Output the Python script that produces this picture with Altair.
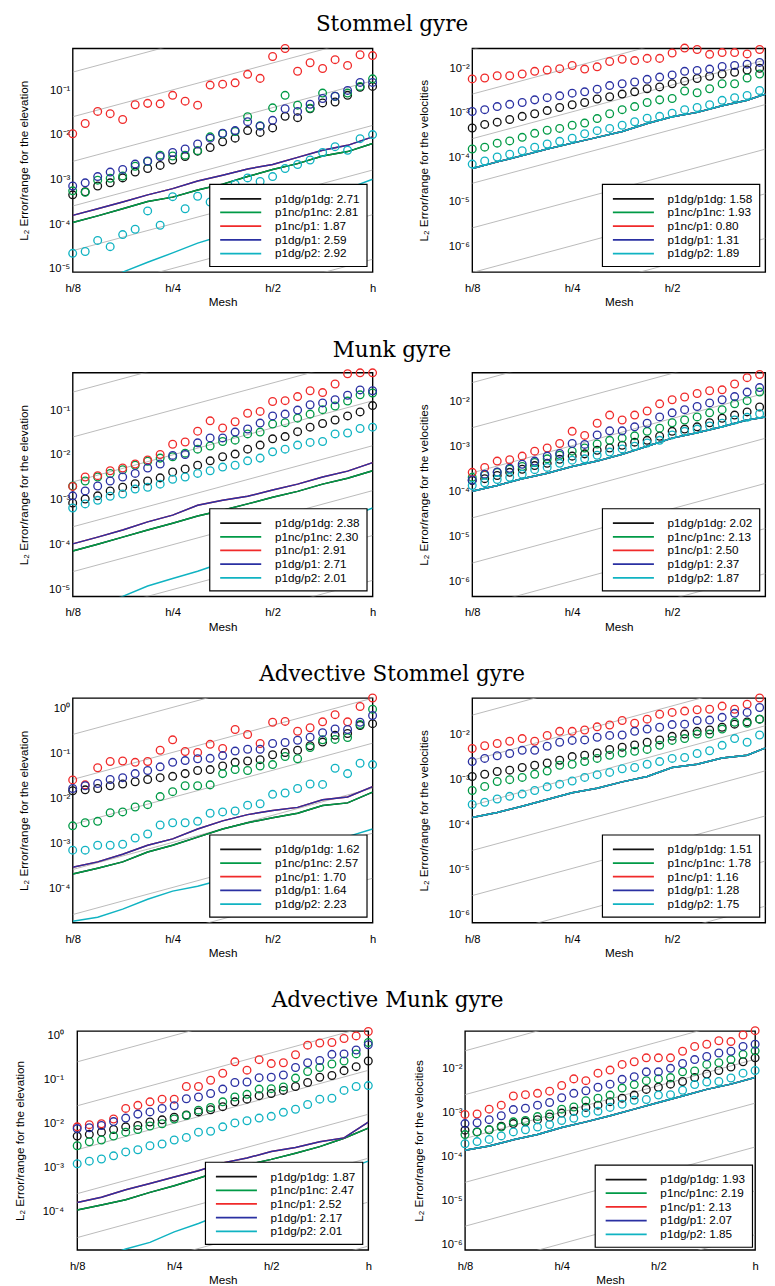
import math
import altair as alt
import pandas as pd

# ---------------- data (log10 of the L2 error / range) ----------------
MESH = [2 ** (-3 + i / 8) for i in range(25)]          # h/8 ... h, 25 meshes
MESH_LINE = MESH[::2]
SERIES = ["p1dg/p1dg", "p1nc/p1nc", "p1nc/p1", "p1dg/p1", "p1dg/p2"]
COLORS = ["#111111", "#009a46", "#f02a2a", "#2a30a2", "#10b3c2"]
SLOPE = 2.0  # gray reference lines

# Stommel gyre, elevation
SE_BLACK = [-3.34, -3.27, -3.14, -3.07, -2.96, -2.83, -2.75, -2.68, -2.56, -2.48, -2.36, -2.28, -2.15, -2.07, -1.90, -1.94, -1.84, -1.58, -1.61, -1.41, -1.28, -1.26, -1.11, -0.93, -0.91]
SE_GREEN = [-3.25, -3.28, -3.01, -2.97, -2.92, -2.70, -2.59, -2.45, -2.47, -2.45, -2.35, -2.04, -1.97, -1.92, -1.59, -1.79, -1.39, -1.11, -1.33, -1.40, -1.06, -1.13, -1.06, -0.91, -0.74]
SE_RED = [-1.97, -1.74, -1.47, -1.52, -1.65, -1.32, -1.29, -1.30, -1.11, -1.24, -1.33, -0.88, -0.86, -0.83, -0.64, -0.73, -0.24, -0.06, -0.57, -0.38, -0.51, -0.31, -0.44, -0.20, -0.22]
SE_BLUE = [-3.14, -3.07, -2.93, -2.83, -2.77, -2.65, -2.58, -2.48, -2.39, -2.31, -2.20, -2.07, -1.96, -1.90, -1.70, -1.80, -1.67, -1.41, -1.47, -1.31, -1.18, -1.13, -1.00, -0.82, -0.82]
SE_CYAN = [-4.65, -4.61, -4.36, -4.50, -4.23, -4.11, -3.70, -4.02, -3.38, -3.65, -3.37, -3.50, -3.21, -3.10, -2.96, -3.04, -2.93, -2.75, -2.66, -2.56, -2.39, -2.26, -2.34, -2.08, -1.99]
SE_LINE_BG = [-3.96, -3.81, -3.65, -3.49, -3.39, -3.23, -3.10, -2.93, -2.77, -2.64, -2.47, -2.37, -2.19]
SE_LINE_RB = [-3.80, -3.65, -3.50, -3.34, -3.20, -3.03, -2.90, -2.76, -2.66, -2.50, -2.34, -2.23, -2.04]
SE_LINE_CY = [-5.47, -5.27, -5.07, -4.85, -4.64, -4.42, -4.25, -4.00, -3.80, -3.60, -3.40, -3.20, -2.99]
SE_RATES = ["2.71", "2.81", "1.87", "2.59", "2.92"]
SE_REF = [-0.59, -1.59, -2.59, -3.59, -4.59, -5.59, -6.59]

# Stommel gyre, velocities
SV_BLACK = [-3.34, -3.26, -3.21, -3.15, -3.08, -3.02, -2.95, -2.88, -2.82, -2.77, -2.69, -2.64, -2.58, -2.53, -2.46, -2.42, -2.35, -2.29, -2.23, -2.18, -2.13, -2.09, -2.04, -2.00, -1.93]
SV_GREEN = [-3.81, -3.77, -3.68, -3.63, -3.55, -3.46, -3.39, -3.35, -3.28, -3.23, -3.13, -3.02, -2.93, -2.86, -2.77, -2.71, -2.68, -2.51, -2.55, -2.46, -2.35, -2.35, -2.22, -2.13, -2.04]
SV_RED = [-2.24, -2.22, -2.17, -2.17, -2.13, -2.07, -2.04, -2.01, -1.94, -2.02, -1.97, -1.85, -1.80, -1.83, -1.78, -1.78, -1.66, -1.55, -1.58, -1.69, -1.65, -1.65, -1.68, -1.58, -1.58]
SV_BLUE = [-2.97, -2.93, -2.86, -2.81, -2.77, -2.71, -2.66, -2.62, -2.56, -2.53, -2.47, -2.39, -2.35, -2.31, -2.25, -2.20, -2.15, -2.07, -2.05, -2.02, -1.96, -1.94, -1.91, -1.87, -1.82]
SV_CYAN = [-4.15, -4.08, -3.99, -3.93, -3.85, -3.77, -3.70, -3.64, -3.57, -3.47, -3.40, -3.35, -3.28, -3.20, -3.12, -3.08, -3.01, -2.93, -2.88, -2.82, -2.72, -2.66, -2.61, -2.50, -2.40]
SV_LINE = [-4.25, -4.10, -3.96, -3.81, -3.68, -3.55, -3.42, -3.24, -3.09, -2.99, -2.84, -2.72, -2.53]
SV_RATES = ["1.58", "1.93", "0.80", "1.31", "1.89"]
SV_REF = [-1.58, -2.58, -3.58, -4.58, -5.58, -6.58, -7.58]

# Munk gyre, elevation
ME_BLACK = [-3.07, -2.98, -2.91, -2.80, -2.72, -2.64, -2.58, -2.51, -2.38, -2.31, -2.23, -2.13, -2.04, -1.98, -1.87, -1.78, -1.64, -1.59, -1.48, -1.38, -1.30, -1.22, -1.13, -1.04, -0.90]
ME_GREEN = [-2.69, -2.58, -2.49, -2.41, -2.33, -2.23, -2.14, -2.07, -2.04, -1.96, -1.87, -1.80, -1.70, -1.67, -1.53, -1.49, -1.31, -1.28, -1.18, -1.09, -0.99, -0.91, -0.80, -0.66, -0.62]
ME_RED = [-2.70, -2.49, -2.46, -2.35, -2.29, -2.20, -2.11, -1.99, -1.76, -1.71, -1.47, -1.24, -1.40, -1.26, -1.07, -1.03, -0.81, -0.79, -0.70, -0.57, -0.61, -0.42, -0.19, -0.17, -0.17]
ME_BLUE = [-2.91, -2.80, -2.69, -2.58, -2.49, -2.41, -2.29, -2.20, -2.01, -1.99, -1.73, -1.62, -1.62, -1.49, -1.42, -1.29, -1.13, -1.09, -1.00, -0.88, -0.84, -0.77, -0.67, -0.55, -0.57]
ME_CYAN = [-3.18, -3.09, -3.01, -2.92, -2.87, -2.76, -2.72, -2.65, -2.54, -2.49, -2.41, -2.35, -2.27, -2.23, -2.13, -2.07, -1.93, -1.87, -1.78, -1.72, -1.70, -1.53, -1.51, -1.41, -1.38]
ME_LINE_BG = [-4.14, -3.99, -3.83, -3.67, -3.52, -3.36, -3.23, -3.09, -2.94, -2.81, -2.65, -2.52, -2.35]
ME_LINE_RB = [-3.98, -3.83, -3.67, -3.49, -3.34, -3.12, -3.01, -2.92, -2.78, -2.65, -2.49, -2.36, -2.17]
ME_LINE_CY = [-5.55, -5.35, -5.15, -4.92, -4.75, -4.59, -4.40, -4.20, -4.00, -3.80, -3.60, -3.40, -3.18]
ME_RATES = ["2.38", "2.30", "2.91", "2.71", "2.01"]
ME_REF = [-0.60, -1.60, -2.60, -3.60, -4.60, -5.60, -6.60]

# Munk gyre, velocities
MV_BLACK = [-3.76, -3.72, -3.65, -3.58, -3.51, -3.43, -3.38, -3.29, -3.22, -3.17, -3.09, -3.04, -2.98, -2.91, -2.87, -2.78, -2.67, -2.62, -2.57, -2.48, -2.38, -2.31, -2.24, -2.13, -2.04]
MV_GREEN = [-3.69, -3.64, -3.58, -3.51, -3.45, -3.36, -3.28, -3.20, -3.11, -3.04, -2.95, -2.87, -2.82, -2.77, -2.67, -2.60, -2.48, -2.42, -2.35, -2.26, -2.19, -2.06, -1.99, -1.80, -1.70]
MV_RED = [-3.58, -3.47, -3.33, -3.30, -3.22, -3.11, -3.04, -2.94, -2.67, -2.76, -2.49, -2.31, -2.42, -2.31, -2.22, -2.06, -1.97, -1.91, -1.83, -1.77, -1.75, -1.62, -1.48, -1.41, -1.30]
MV_BLUE = [-3.75, -3.62, -3.57, -3.49, -3.40, -3.33, -3.22, -3.16, -2.94, -2.96, -2.75, -2.66, -2.66, -2.57, -2.49, -2.35, -2.26, -2.19, -2.12, -2.04, -1.97, -1.90, -1.80, -1.70, -1.66]
MV_CYAN = [-3.87, -3.81, -3.74, -3.69, -3.62, -3.52, -3.47, -3.38, -3.31, -3.28, -3.20, -3.13, -3.06, -3.00, -2.93, -2.87, -2.75, -2.67, -2.62, -2.55, -2.49, -2.42, -2.36, -2.28, -2.22]
MV_LINE = [-4.00, -3.87, -3.72, -3.60, -3.45, -3.33, -3.18, -3.00, -2.82, -2.70, -2.57, -2.42, -2.33]
MV_RATES = ["2.02", "2.13", "2.50", "2.37", "1.87"]
MV_REF = [-1.59, -2.59, -3.59, -4.59, -5.59, -6.59, -7.59]

# Advective Stommel gyre, elevation
ASE_BLACK = [-1.83, -1.81, -1.78, -1.72, -1.68, -1.63, -1.58, -1.54, -1.51, -1.45, -1.38, -1.36, -1.28, -1.20, -1.17, -1.14, -1.03, -0.98, -0.93, -0.83, -0.75, -0.60, -0.56, -0.38, -0.34]
ASE_GREEN = [-2.61, -2.54, -2.51, -2.32, -2.30, -2.19, -2.14, -1.96, -1.85, -1.72, -1.72, -1.70, -1.45, -1.36, -1.38, -1.28, -1.25, -1.07, -1.12, -0.87, -0.70, -0.69, -0.65, -0.36, -0.02]
ASE_RED = [-1.59, -1.70, -1.32, -1.18, -1.17, -1.20, -1.18, -0.93, -0.70, -0.96, -0.98, -0.80, -0.89, -0.47, -0.58, -0.78, -0.31, -0.29, -0.51, -0.43, -0.30, -0.14, -0.30, 0.04, 0.23]
ASE_BLUE = [-1.78, -1.72, -1.67, -1.58, -1.54, -1.45, -1.38, -1.30, -1.20, -1.16, -1.12, -1.11, -1.05, -0.95, -0.91, -0.91, -0.78, -0.76, -0.71, -0.64, -0.54, -0.46, -0.47, -0.31, -0.16]
ASE_CYAN = [-3.15, -3.15, -3.04, -3.04, -3.02, -2.88, -2.79, -2.59, -2.54, -2.54, -2.51, -2.33, -2.30, -2.28, -2.15, -2.12, -1.91, -1.88, -1.78, -1.68, -1.69, -1.33, -1.45, -1.22, -1.25]
ASE_LINE_BG = [-3.68, -3.55, -3.41, -3.19, -3.04, -2.86, -2.68, -2.54, -2.43, -2.33, -2.16, -2.10, -1.86]
ASE_LINE_RB = [-3.53, -3.41, -3.24, -3.04, -2.90, -2.68, -2.50, -2.36, -2.27, -2.20, -2.03, -1.97, -1.74]
ASE_LINE_CY = [-4.73, -4.64, -4.46, -4.24, -4.06, -3.95, -3.80, -3.60, -3.40, -3.20, -3.00, -2.85, -2.68]
ASE_RATES = ["1.62", "2.57", "1.70", "1.64", "2.23"]
ASE_REF = [-0.58, -1.58, -2.58, -3.58, -4.58, -5.58, -6.58]

# Advective Stommel gyre, velocities
ASV_BLACK = [-2.93, -2.88, -2.82, -2.79, -2.73, -2.68, -2.63, -2.57, -2.49, -2.46, -2.41, -2.33, -2.28, -2.23, -2.17, -2.12, -2.04, -1.99, -1.93, -1.90, -1.84, -1.77, -1.72, -1.66, -1.59]
ASV_GREEN = [-3.24, -3.15, -3.04, -3.00, -2.95, -2.88, -2.81, -2.68, -2.66, -2.60, -2.53, -2.46, -2.41, -2.37, -2.33, -2.24, -2.13, -2.09, -1.99, -1.99, -1.88, -1.73, -1.75, -1.66, -1.55]
ASV_RED = [-2.31, -2.25, -2.20, -2.15, -2.09, -2.15, -2.02, -1.93, -1.93, -1.90, -1.83, -1.79, -1.69, -1.75, -1.66, -1.55, -1.51, -1.48, -1.45, -1.44, -1.37, -1.44, -1.33, -1.19, -1.11]
ASV_BLUE = [-2.60, -2.53, -2.47, -2.42, -2.35, -2.35, -2.26, -2.17, -2.13, -2.12, -2.06, -2.02, -2.01, -1.93, -1.88, -1.84, -1.78, -1.77, -1.69, -1.68, -1.62, -1.53, -1.51, -1.40, -1.37]
ASV_CYAN = [-3.55, -3.50, -3.43, -3.37, -3.32, -3.24, -3.16, -3.10, -3.03, -2.95, -2.89, -2.84, -2.76, -2.73, -2.66, -2.60, -2.53, -2.51, -2.42, -2.36, -2.24, -2.09, -2.17, -2.01, -1.93]
ASV_LINE = [-3.84, -3.73, -3.59, -3.44, -3.29, -3.19, -3.05, -2.93, -2.73, -2.66, -2.52, -2.46, -2.24]
ASV_RATES = ["1.51", "1.78", "1.16", "1.28", "1.75"]
ASV_REF = [-1.57, -2.57, -3.57, -4.57, -5.57, -6.57, -7.57]

# Advective Munk gyre, elevation
AME_BLACK = [-2.28, -2.24, -2.19, -2.13, -2.07, -2.04, -1.96, -1.91, -1.85, -1.80, -1.73, -1.68, -1.61, -1.50, -1.44, -1.36, -1.31, -1.24, -1.15, -1.06, -0.94, -0.90, -0.79, -0.70, -0.57]
AME_GREEN = [-2.50, -2.41, -2.37, -2.28, -2.19, -2.13, -2.05, -2.00, -1.89, -1.81, -1.69, -1.63, -1.50, -1.39, -1.33, -1.21, -1.20, -1.16, -0.96, -0.81, -0.72, -0.64, -0.57, -0.41, -0.15]
AME_RED = [-2.07, -2.02, -2.00, -1.89, -1.65, -1.58, -1.50, -1.44, -1.44, -1.15, -1.15, -1.01, -0.85, -0.59, -0.78, -0.54, -0.63, -0.61, -0.43, -0.21, -0.16, -0.15, -0.06, 0.00, 0.10]
AME_BLUE = [-2.11, -2.09, -2.04, -1.95, -1.87, -1.78, -1.73, -1.65, -1.59, -1.43, -1.39, -1.31, -1.21, -1.06, -1.05, -0.95, -0.94, -0.89, -0.72, -0.61, -0.56, -0.42, -0.41, -0.32, -0.20]
AME_CYAN = [-2.91, -2.85, -2.80, -2.73, -2.64, -2.59, -2.50, -2.46, -2.37, -2.31, -2.19, -2.17, -2.07, -1.98, -1.93, -1.87, -1.83, -1.74, -1.67, -1.56, -1.44, -1.42, -1.24, -1.15, -1.13]
AME_LINE_BG = [-3.96, -3.85, -3.73, -3.56, -3.41, -3.24, -3.06, -2.93, -2.81, -2.67, -2.52, -2.33, -2.10]
AME_LINE_RB = [-3.79, -3.67, -3.50, -3.36, -3.21, -3.07, -2.89, -2.78, -2.63, -2.54, -2.41, -2.32, -1.96]
AME_LINE_CY = [-5.30, -5.05, -4.85, -4.70, -4.46, -4.27, -4.05, -3.85, -3.65, -3.45, -3.25, -3.05, -2.85]
AME_RATES = ["1.87", "2.47", "2.52", "2.17", "2.01"]
AME_REF = [-0.59, -1.59, -2.59, -3.59, -4.59, -5.59, -6.59]

# Advective Munk gyre, velocities
AMV_BLACK = [-3.40, -3.44, -3.39, -3.31, -3.25, -3.21, -3.16, -3.10, -3.01, -2.97, -2.88, -2.83, -2.75, -2.67, -2.60, -2.47, -2.42, -2.35, -2.29, -2.20, -2.12, -2.04, -1.96, -1.84, -1.75]
AMV_GREEN = [-3.50, -3.44, -3.39, -3.33, -3.21, -3.18, -3.09, -3.03, -2.92, -2.87, -2.73, -2.67, -2.60, -2.44, -2.36, -2.27, -2.23, -2.20, -2.07, -2.05, -1.90, -1.86, -1.79, -1.67, -1.59]
AMV_RED = [-3.04, -3.03, -2.92, -2.83, -2.62, -2.59, -2.56, -2.51, -2.38, -2.23, -2.27, -2.10, -2.03, -1.90, -1.84, -1.75, -1.75, -1.75, -1.60, -1.49, -1.44, -1.36, -1.38, -1.23, -1.13]
AMV_BLUE = [-3.25, -3.23, -3.16, -3.07, -2.93, -2.90, -2.83, -2.77, -2.66, -2.56, -2.50, -2.42, -2.35, -2.24, -2.18, -2.07, -2.07, -1.99, -1.88, -1.79, -1.72, -1.64, -1.60, -1.49, -1.44]
AMV_CYAN = [-3.71, -3.66, -3.61, -3.53, -3.44, -3.39, -3.33, -3.27, -3.18, -3.13, -3.01, -2.97, -2.88, -2.81, -2.72, -2.70, -2.60, -2.59, -2.49, -2.36, -2.30, -2.29, -2.21, -2.10, -2.04]
AMV_LINE = [-3.86, -3.76, -3.62, -3.50, -3.34, -3.21, -3.07, -2.92, -2.77, -2.62, -2.47, -2.35, -2.20]
AMV_RATES = ["1.93", "2.19", "2.13", "2.07", "1.85"]
AMV_REF = [-1.59, -2.59, -3.59, -4.59, -5.59, -6.59, -7.59]

ELEV_TITLE = "L\u2082 Error/range for the elevation"
VEL_TITLE = "L\u2082 Error/range for the velocities"

# ---------------- helpers ----------------
SUP = str.maketrans("-0123456789", "\u207b\u2070\u00b9\u00b2\u00b3\u2074\u2075\u2076\u2077\u2078\u2079")
YLABELS = ["10" + str(e).translate(SUP) for e in range(-9, 2)]
YEXPR = "[" + ",".join("'" + s + "'" for s in YLABELS) + "][round(log(datum.value)/LN10)+9]"
XEXPR = "datum.value > 0.99 ? 'h' : 'h/' + round(1/datum.value)"
SANS = "Liberation Sans"


def panel(circles, lines, rates, refs, ydom, ytitle, width, height, xmax,
          label_pad, extent, title_pad, leg_offset):
    labels = [f"{s}: {r}" for s, r in zip(SERIES, rates)]
    cscale = alt.Scale(domain=labels, range=COLORS)
    pts = pd.DataFrame([{"mesh": m, "err": 10 ** v, "series": lab}
                        for lab, vals in zip(labels, circles) for m, v in zip(MESH, vals)
                        if m <= xmax + 1e-9])
    lns = pd.DataFrame([{"mesh": m, "err": 10 ** v, "series": lab}
                        for lab, vals in zip(labels, lines) for m, v in zip(MESH_LINE, vals)])
    refdf = pd.DataFrame([{"mesh": m, "err": 10 ** (c + SLOPE * math.log10(m / MESH[0])), "k": k}
                          for k, c in enumerate(refs) for m in (MESH[0], 1.0)])
    lo, hi = ydom
    xvals = [v for v in (0.125, 0.25, 0.5, 1.0) if v <= xmax + 1e-9]
    yvals = [10.0 ** e for e in range(math.ceil(lo), math.floor(hi) + 1)]
    x = alt.X("mesh:Q",
              scale=alt.Scale(type="log", base=2, domain=[0.125, xmax], nice=False),
              axis=alt.Axis(values=xvals, labelExpr=XEXPR, title="Mesh", labelPadding=11,
                            titlePadding=3, labelFlush=False, labelOverlap=False))
    y = alt.Y("err:Q",
              scale=alt.Scale(type="log", domain=[10 ** lo, 10 ** hi], nice=False),
              axis=alt.Axis(values=yvals, labelExpr=YEXPR, title=ytitle, labelPadding=label_pad,
                            minExtent=extent, maxExtent=extent, titlePadding=title_pad,
                            labelFlush=False, labelOverlap=False))
    ref = alt.Chart(refdf).mark_line(color="#a8a8a8", strokeWidth=0.8, clip=True).encode(
        x=x, y=y, detail="k:N")
    line = alt.Chart(lns).mark_line(strokeWidth=1.5, clip=True).encode(
        x=x, y=y,
        color=alt.Color("series:N", scale=cscale,
                        legend=alt.Legend(title=None, orient="bottom-right", offset=leg_offset)))
    circ = alt.Chart(pts).mark_point(shape="circle", filled=False, size=62, strokeWidth=1.35,
                                     opacity=1).encode(
        x=x, y=y, stroke=alt.Stroke("series:N", scale=cscale, legend=None))
    return alt.layer(ref, line, circ).properties(width=width, height=height)


RW = 300                                   # visible width of the cut-off right panels
XCUT = 2 ** (-3 + 3 * RW / 307)


def row(left, right, text, offset, spacing=37):
    return alt.hconcat(left, right, spacing=spacing).resolve_scale(
        color="independent", stroke="independent").properties(
        title=alt.TitleParams(text=text, offset=offset))


r1 = row(
    panel([SE_BLACK, SE_GREEN, SE_RED, SE_BLUE, SE_CYAN],
          [SE_LINE_BG, SE_LINE_BG, SE_LINE_RB, SE_LINE_RB, SE_LINE_CY],
          SE_RATES, SE_REF, (-5.07, -0.058), ELEV_TITLE, 307, 229, 1.0, 3, 30, 13, 6),
    panel([SV_BLACK, SV_GREEN, SV_RED, SV_BLUE, SV_CYAN], [SV_LINE] * 5,
          SV_RATES, SV_REF, (-6.57, -1.556), VEL_TITLE, RW, 229, XCUT, 3, 30, 13, 6),
    "Stommel gyre", 5)
r2 = row(
    panel([ME_BLACK, ME_GREEN, ME_RED, ME_BLUE, ME_CYAN],
          [ME_LINE_BG, ME_LINE_BG, ME_LINE_RB, ME_LINE_RB, ME_LINE_CY],
          ME_RATES, ME_REF, (-5.15, -0.167), ELEV_TITLE, 307, 229, 1.0, 3, 30, 13, 6),
    panel([MV_BLACK, MV_GREEN, MV_RED, MV_BLUE, MV_CYAN], [MV_LINE] * 5,
          MV_RATES, MV_REF, (-6.33, -1.37), VEL_TITLE, RW, 229, XCUT, 3, 30, 13, 6),
    "Munk gyre", 4)
r3 = row(
    panel([ASE_BLACK, ASE_GREEN, ASE_RED, ASE_BLUE, ASE_CYAN],
          [ASE_LINE_BG, ASE_LINE_BG, ASE_LINE_RB, ASE_LINE_RB, ASE_LINE_CY],
          ASE_RATES, ASE_REF, (-4.76, 0.23), ELEV_TITLE, 307, 230, 1.0, 3, 30, 13, 6),
    panel([ASV_BLACK, ASV_GREEN, ASV_RED, ASV_BLUE, ASV_CYAN], [ASV_LINE] * 5,
          ASV_RATES, ASV_REF, (-6.17, -1.19), VEL_TITLE, RW, 230, XCUT, 3, 30, 13, 6),
    "Advective Stommel gyre", 5)
r4 = row(
    panel([AME_BLACK, AME_GREEN, AME_RED, AME_BLUE, AME_CYAN],
          [AME_LINE_BG, AME_LINE_BG, AME_LINE_RB, AME_LINE_RB, AME_LINE_CY],
          AME_RATES, AME_REF, (-4.87, 0.11), ELEV_TITLE, 298, 224, 1.0, 14, 38, 14, 6),
    panel([AMV_BLACK, AMV_GREEN, AMV_RED, AMV_BLUE, AMV_CYAN], [AMV_LINE] * 5,
          AMV_RATES, AMV_REF, (-6.13, -1.14), VEL_TITLE, 297, 224, 1.0, 3, 30, 10, 3),
    "Advective Munk gyre", 12, spacing=37)

chart = alt.vconcat(r1, r2, r3, r4, spacing=30, center=True).resolve_scale(
    color="independent", stroke="independent").properties(
    padding={"left": 5, "top": -10, "right": 0, "bottom": 0},
    background="white",
).configure_view(stroke="black", strokeWidth=1.4).configure_axis(
    labelFont=SANS, titleFont=SANS, labelFontSize=11.5, titleFontSize=12,
    labelColor="black", titleColor="black", titleFontWeight="normal",
    grid=False, ticks=False, domain=False,
).configure_legend(
    strokeColor="black", fillColor="white", padding=7, strokeWidth=1.2,
    symbolType="M-1,0H5", symbolSize=196, symbolStrokeWidth=1.8, symbolOffset=3,
    labelOffset=41, labelFont=SANS, labelFontSize=12, labelColor="black", rowPadding=0,
).configure_title(
    font="DejaVu Serif", fontSize=22, fontWeight="normal", color="black", anchor="middle",
)

chart.save("out.html", embed_options={"renderer": "svg", "actions": False})
